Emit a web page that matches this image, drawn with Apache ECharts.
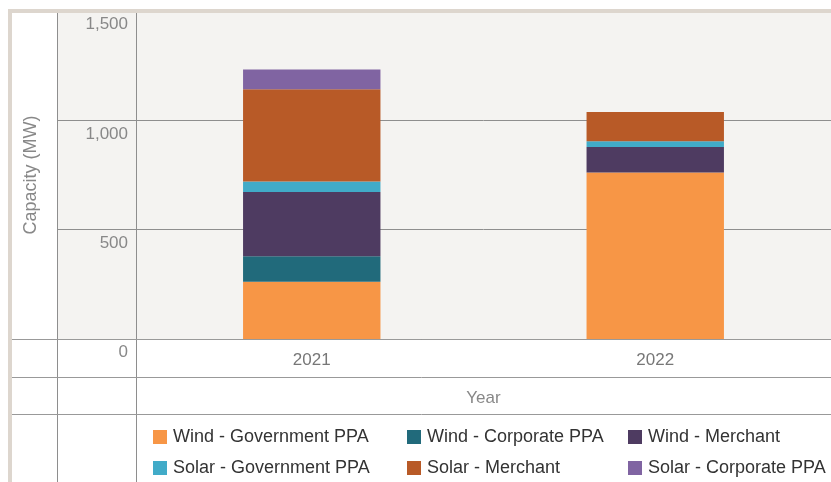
<!DOCTYPE html>
<html>
<head>
<meta charset="utf-8">
<script src="https://cdn.jsdelivr.net/npm/echarts@6/dist/echarts.min.js"></script>
<style>
html,body{margin:0;padding:0;background:#fff;}
#c{width:831px;height:482px;}
</style>
</head>
<body>
<div id="c"></div>
<script>
const categories = ['2021', '2022'];
const seriesNames = ['Wind - Government PPA', 'Wind - Corporate PPA', 'Wind - Merchant', 'Solar - Government PPA', 'Solar - Merchant', 'Solar - Corporate PPA'];
const windGovernment = [262, 762];
const windCorporate = [117, 0];
const windMerchant = [293, 116];
const solarGovernment = [48, 26];
const solarMerchant = [422, 134];
const solarCorporate = [91, 0];
const seriesValues = [windGovernment, windCorporate, windMerchant, solarGovernment, solarMerchant, solarCorporate];
const colors = ['#f79646', '#216a7b', '#4e3b61', '#41abc8', '#b85a27', '#8064a2'];
const yTicks = { min: 0, max: 1500, interval: 500 };
const yTitle = 'Capacity (MW)';
const xTitle = 'Year';

const W = 831, H = 482;
const frameX = 12, frameY = 13;
const colA = 57, colB = 136;
const plotTop = 11, plotBottom = 339;
const row1 = 377, row2 = 414;
const font = "'Liberation Sans', Arial, Helvetica, sans-serif";
const lineCol = '#8e8e8e';

const chart = echarts.init(document.getElementById('c'), null, { renderer: 'canvas' });

const series = seriesNames.map((n, i) => ({
  name: n,
  type: 'bar',
  stack: 'total',
  xAxisIndex: 0,
  yAxisIndex: 0,
  barWidth: '40%',
  itemStyle: { color: colors[i] },
  data: seriesValues[i]
}));

const legendCols = [[0, 3], [1, 4], [2, 5]];
const legendLefts = [153, 407, 628];
const legends = legendCols.map((idx, k) => ({
  orient: 'vertical',
  left: legendLefts[k],
  top: 428,
  itemWidth: 14,
  itemHeight: 14,
  itemGap: 13,
  icon: 'rect',
  padding: 0,
  selectedMode: false,
  textStyle: { color: '#333', fontSize: 18, fontFamily: font, padding: [0, 0, 0, 1] },
  data: idx.map(i => seriesNames[i])
}));

function hline(x1, x2, y, color) {
  return { type: 'line', z: 50, silent: true, shape: { x1: x1, y1: y, x2: x2, y2: y }, style: { stroke: color || lineCol, lineWidth: 1 } };
}
function vline(x, y1, y2, color) {
  return { type: 'line', z: 50, silent: true, shape: { x1: x, y1: y1, x2: x, y2: y2 }, style: { stroke: color || lineCol, lineWidth: 1 } };
}

chart.setOption({
  animation: false,
  backgroundColor: '#fff',
  grid: [
    { left: 140, right: 4, top: plotTop, bottom: H - plotBottom, show: false },
    { left: colA, width: colB - colA, top: plotTop, bottom: H - plotBottom, show: true, backgroundColor: '#f4f3f1', borderWidth: 0 },
    { left: colB, right: 0, top: plotTop, bottom: H - plotBottom, show: true, backgroundColor: '#f4f3f1', borderWidth: 0, z: 0 }
  ],
  xAxis: [
    {
      type: 'category', gridIndex: 0, data: categories,
      axisLine: { show: false }, axisTick: { show: false },
      axisLabel: { color: '#777', fontSize: 17, fontFamily: font, margin: 13 },
      name: xTitle, nameLocation: 'middle', nameGap: 51,
      nameTextStyle: { color: '#888', fontSize: 17, fontFamily: font }
    },
    { type: 'category', gridIndex: 1, data: [''], show: false },
    { type: 'category', gridIndex: 2, data: [''], show: false }
  ],
  yAxis: [
    {
      type: 'value', gridIndex: 0, min: yTicks.min, max: yTicks.max, interval: yTicks.interval,
      axisLine: { show: false }, axisTick: { show: false }, axisLabel: { show: false },
      splitLine: { show: false }
    },
    {
      type: 'value', gridIndex: 1, position: 'right', min: yTicks.min, max: yTicks.max, interval: yTicks.interval,
      axisLine: { show: false }, axisTick: { show: false },
      axisLabel: {
        inside: true, margin: 8, color: '#888', fontSize: 17, fontFamily: font,
        verticalAlign: 'top', padding: [5, 0, 0, 0],
        formatter: v => v.toLocaleString('en-US')
      },
      splitLine: { show: true, lineStyle: { color: lineCol, width: 1 } }
    },
    {
      type: 'value', gridIndex: 2, min: yTicks.min, max: yTicks.max, interval: yTicks.interval,
      axisLine: { show: false }, axisTick: { show: false }, axisLabel: { show: false },
      splitLine: { show: true, lineStyle: { color: lineCol, width: 1 } },
      name: yTitle, nameLocation: 'middle', nameGap: 96, nameRotate: 90,
      nameTextStyle: { color: '#888', fontSize: 18, fontFamily: font }
    }
  ],
  legend: legends,
  series: series,
  graphic: [
    { type: 'rect', z: 60, silent: true, shape: { x: 8, y: 9, width: W - 8, height: 4 }, style: { fill: '#ddd6ce' } },
    { type: 'rect', z: 60, silent: true, shape: { x: 8, y: 9, width: 4, height: H - 9 }, style: { fill: '#ddd6ce' } },
    vline(colA + 0.5, frameY, H),
    vline(colB + 0.5, frameY, H),
    hline(frameX, W, plotBottom + 0.5, '#999'),
    hline(frameX, W, row1 + 0.5, '#999'),
    hline(frameX, W, row2 + 0.5, '#999')
  ]
});
</script>
</body>
</html>
